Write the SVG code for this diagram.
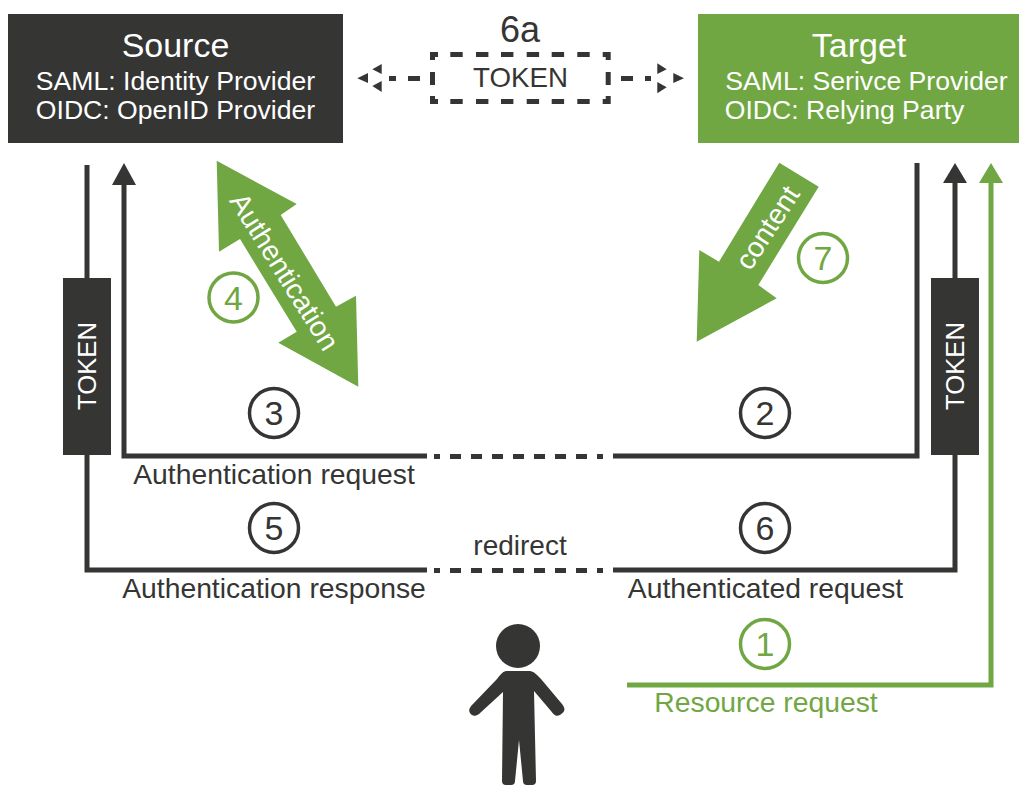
<svg xmlns="http://www.w3.org/2000/svg" width="1019" height="785" viewBox="0 0 1019 785">
<style>
text{font-family:"Liberation Sans",Arial,sans-serif;text-anchor:middle;fill:#353533}
.w{fill:#fff}.g{fill:#70a743}
.l{fill:none;stroke:#353533;stroke-width:5}
.lg{fill:none;stroke:#70a743;stroke-width:5}
.c{fill:none;stroke:#353533;stroke-width:3.5}
.cg{fill:none;stroke:#70a743;stroke-width:3.5}
.d{fill:#353533}.f{fill:#70a743}
.h{font-size:26.6px}.t{font-size:28.3px}.n{font-size:34px}
</style>
<rect width="1019" height="785" fill="#fff"/>
<g id="connectors">
<path class="l" d="M87 165V570H427M124 180V456H427M613 456H917V163M613 570H955V180"/>
<path class="d" d="M124 163L136 185H112Z"/>
<path class="d" d="M955 163L967 183H943Z"/>
<path class="lg" d="M627 685H991V180"/>
<path class="f" d="M991 163L1003 183H979Z"/>
<path class="d" d="M434 454h6v5h-6zM450 454h11v5h-11zM471 454h11v5h-11zM492 454h11v5h-11zM513 454h11v5h-11zM534 454h11v5h-11zM555 454h11v5h-11zM576 454h11v5h-11zM597 454h6v5h-6z"/>
<path class="d" d="M434 568h6v5h-6zM450 568h11v5h-11zM471 568h11v5h-11zM492 568h11v5h-11zM513 568h11v5h-11zM534 568h11v5h-11zM555 568h11v5h-11zM576 568h11v5h-11zM597 568h6v5h-6z"/>
<path class="d" d="M408 76h12v5h-12zM389 76h7v5h-7zM621 76h12v5h-12zM645 76h6v5h-6z"/>
<path class="d" d="M357.300 78.300L368 73V83ZM372.300 69.300L381.700 64V74ZM372.300 86L381.700 81V92ZM657.300 63.300L666.700 69.300L657.300 74ZM657.300 82L666.700 87.300L657.300 93.300ZM684 78.300L673.300 73V83Z"/>
</g>
<g id="source"><rect x="8" y="14" width="335" height="129" class="d"/>
<text x="175.500" y="57" class="w" font-size="34">Source</text>
<text x="175.500" y="90" class="w h">SAML: Identity Provider</text>
<text x="175.500" y="119" class="w h">OIDC: OpenID Provider</text></g>
<g id="target"><rect x="698" y="14" width="321" height="129" class="f"/>
<text x="859" y="57" class="w" font-size="34">Target</text>
<text x="866.500" y="90" class="w h">SAML: Serivce Provider</text>
<text x="844.500" y="119" class="w h">OIDC: Relying Party</text></g>
<g id="token-box">
<text x="520" y="42" font-size="36">6a</text>
<path class="d" d="M430 52h8v5h-3v3h-5zM602.700 52h8v8h-5v-3h-3zM430 96h5v3h3v5h-8zM605.700 96h5v8h-8v-5h3zM430 72h5v13h-5zM605.700 72h5v13h-5zM450.300 52h12.400v5h-12.400zM476 52h12.400v5h-12.400zM501 52h12.400v5h-12.400zM526.700 52h12.400v5h-12.400zM551.700 52h12.400v5h-12.400zM577.300 52h12.400v5h-12.400zM450.300 99h12.400v5h-12.400zM476 99h12.400v5h-12.400zM501 99h12.400v5h-12.400zM526.700 99h12.400v5h-12.400zM551.700 99h12.400v5h-12.400zM577.300 99h12.400v5h-12.400z"/>
<text x="520.500" y="87" font-size="27.700">TOKEN</text></g>
<g id="token-left"><rect x="63" y="278" width="48" height="177" class="d"/>
<text transform="translate(96 366) rotate(-90)" class="w" font-size="25.700">TOKEN</text></g>
<g id="token-right"><rect x="931" y="278" width="48" height="177" class="d"/>
<text transform="translate(964 366) rotate(-90)" class="w" font-size="25.700">TOKEN</text></g>
<g id="authentication"><path class="f" d="M216.700 160.700L296.700 204L280.700 215L336 306.700L356 295.700L358.300 386.700L278.300 342.700L296.700 331.700L240 239L219 251.700Z"/>
<text transform="translate(284 272) rotate(58)" y="9" class="w t">Authentication</text></g>
<g id="content"><path class="f" d="M779.300 162.700L818.700 186.700L758.300 285L776.700 298.300L696.700 341.700L699.300 250L719 261.700Z"/>
<text transform="translate(768 228) rotate(-57)" y="9" class="w t">content</text></g>
<g id="step-4"><circle cx="233.500" cy="297.500" r="24.500" class="cg"/><text x="233.500" y="309.500" class="g n">4</text></g>
<g id="step-7"><circle cx="823" cy="258" r="24.500" class="cg"/><text x="823" y="270" class="g n">7</text></g>
<g id="step-3"><circle cx="274" cy="413" r="24.500" class="c"/><text x="274" y="425" class="n">3</text></g>
<g id="step-2"><circle cx="765" cy="413" r="24.500" class="c"/><text x="765" y="425" class="n">2</text></g>
<g id="step-5"><circle cx="274" cy="528" r="24.500" class="c"/><text x="274" y="540" class="n">5</text></g>
<g id="step-6"><circle cx="765" cy="528" r="24.500" class="c"/><text x="765" y="540" class="n">6</text></g>
<g id="step-1"><circle cx="765" cy="644" r="24.500" class="cg"/><text x="765" y="656" class="g n">1</text></g>
<g id="labels">
<text x="274" y="484" class="t">Authentication request</text>
<text x="274" y="598" class="t">Authentication response</text>
<text x="520" y="555" font-size="28">redirect</text>
<text x="765.500" y="598" class="t">Authenticated request</text>
<text x="766" y="712" class="g t">Resource request</text>
</g>
<g id="user"><circle cx="518" cy="646" r="22" class="d"/>
<path class="d" d="M506 671H530C535 672 537 675 541 679L562 704C566 709 565 712 560 715C556 717 554 715 551 711L534 691L536 781Q536 785 532 785H527Q523 785 523 781L519 740L515 781Q515 785 511 785H506Q502 785 502 781L503 692L479 714C475 717 472 716 470 713C468 710 470 707 473 704L497 679C500 675 502 672 506 671Z"/></g>
</svg>
